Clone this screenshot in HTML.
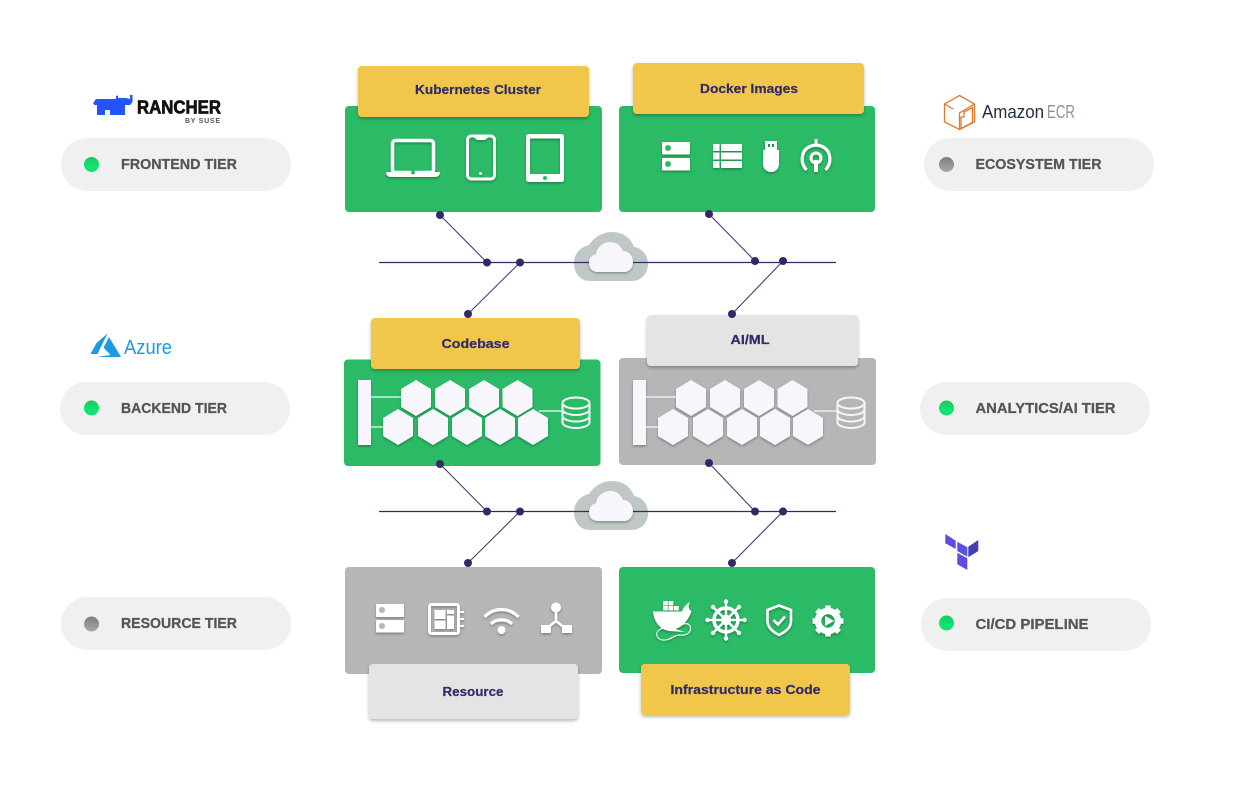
<!DOCTYPE html>
<html><head><meta charset="utf-8"><style>
html,body{margin:0;padding:0;background:#fff;width:1238px;height:792px;overflow:hidden}
svg{display:block}
text{font-family:"Liberation Sans",sans-serif;font-weight:bold}
.lb{font-size:13px;fill:#2f2a68;stroke:#2f2a68;stroke-width:.2;text-anchor:middle}
.pl{font-size:14.5px;fill:#555;stroke:#555;stroke-width:.25}
</style></head><body>
<svg width="1238" height="792" viewBox="0 0 1238 792" xmlns="http://www.w3.org/2000/svg">
<defs>
<filter id="s" x="-20%" y="-30%" width="140%" height="170%"><feDropShadow dx="0" dy="2" stdDeviation="1.6" flood-color="#000" flood-opacity=".28"/></filter>
<filter id="i" x="-30%" y="-30%" width="160%" height="170%"><feDropShadow dx="0" dy="1.5" stdDeviation="1.2" flood-color="#000" flood-opacity=".3"/></filter>
<linearGradient id="g" x1="0" y1="0" x2="0" y2="1"><stop offset="0" stop-color="#1cc662"/><stop offset=".6" stop-color="#10e472"/><stop offset="1" stop-color="#14dd6e"/></linearGradient>
<linearGradient id="y" x1="0" y1="0" x2="0" y2="1"><stop offset="0" stop-color="#7d7d7d"/><stop offset="1" stop-color="#a8a8a8"/></linearGradient>
<g id="hexes">
<g fill="#f6f6fc" filter="url(#i)">
<path d="M0-18 15-9V9L0 18-15 9V-9Z" transform="translate(46 18)"/>
<path d="M0-18 15-9V9L0 18-15 9V-9Z" transform="translate(80 18)"/>
<path d="M0-18 15-9V9L0 18-15 9V-9Z" transform="translate(114 18)"/>
<path d="M0-18 15-9V9L0 18-15 9V-9Z" transform="translate(147.500 18)"/>
<path d="M0-18 15-9V9L0 18-15 9V-9Z" transform="translate(28 47)"/>
<path d="M0-18 15-9V9L0 18-15 9V-9Z" transform="translate(63 47)"/>
<path d="M0-18 15-9V9L0 18-15 9V-9Z" transform="translate(97 47)"/>
<path d="M0-18 15-9V9L0 18-15 9V-9Z" transform="translate(130 47)"/>
<path d="M0-18 15-9V9L0 18-15 9V-9Z" transform="translate(163 47)"/>
<rect x="-12" y="0" width="13" height="65"/>
</g>
<path d="M1 17H31M1 47H13M169 31H192" stroke="#f6f6fc" stroke-width="1.2" fill="none"/>
<g fill="none" stroke="#f6f6fc" stroke-width="2">
<ellipse cx="206" cy="23" rx="13.500" ry="5.500"/>
<path d="M192.500 23V42.500C192.500 45.500 199 48 206 48S219.500 45.500 219.500 42.500V23M192.500 29.500C192.500 32.500 199 35 206 35S219.500 32.500 219.500 29.500M192.500 36C192.500 39 199 41.500 206 41.500S219.500 39 219.500 36"/>
</g>
</g>
<path id="cloudO" d="M590 281C580 281 574 273 574 263 574 254 580 247 589 245 594 237 603 232 612 232 623 232 631 238 634 247 642 248 648 255 648 264 648 274 641 281 632 281Z" fill="#c0c8c5"/>
<path id="cloudI" d="M598 272C592 272 589 268 589 263 589 258 592 255 596 254 597 247 603 242 610 242 616 242 621 245 623 251 629 251 633 256 633 262 633 268 629 272 624 272Z" fill="#f6f6fc" filter="url(#i)"/>
</defs>

<!-- clouds outer -->
<use href="#cloudO"/>
<use href="#cloudO" y="249"/>

<!-- connectors -->
<g stroke="#2f2a68" fill="none">
<path d="M379 262.500H836M379 511.500H836" stroke-width="1.200"/>
<path d="M440 215 487 262.500M520 262.500 468 314M709 214 755 261M783 261 732 314M440 464 487 511.500M520 511.500 468 563M709 463 755 511.500M783 511.500 732 563" stroke-width="1.100" stroke="#44407c"/>
</g>
<use href="#cloudI"/>
<use href="#cloudI" y="249"/>

<!-- panels -->
<rect x="345" y="106" width="257" height="106" rx="4" fill="#2bbb67"/>
<rect x="619" y="106" width="256" height="106" rx="4" fill="#2bbb67"/>
<rect x="344" y="359.500" width="256.500" height="106.500" rx="4" fill="#2bbb67"/>
<rect x="619" y="358" width="257" height="107" rx="4" fill="#b6b6b6"/>
<rect x="345" y="567" width="257" height="107" rx="4" fill="#b6b6b6"/>
<rect x="619" y="567" width="256" height="106" rx="4" fill="#2bbb67"/>

<!-- labels -->
<g filter="url(#s)">
<rect x="358" y="66" width="231" height="51" rx="4" fill="#f1c74b"/>
<rect x="633" y="63" width="231" height="51" rx="4" fill="#f1c74b"/>
<rect x="371" y="318" width="209" height="51" rx="4" fill="#f1c74b"/>
<rect x="647" y="315" width="211" height="51" rx="4" fill="#e4e4e4"/>
<rect x="369" y="664" width="209" height="55" rx="4" fill="#e4e4e4"/>
<rect x="641" y="664" width="209" height="51" rx="4" fill="#f1c74b"/>
</g>
<text class="lb" x="478" y="94" textLength="126" lengthAdjust="spacingAndGlyphs">Kubernetes Cluster</text>
<text class="lb" x="749" y="93" textLength="98" lengthAdjust="spacingAndGlyphs">Docker Images</text>
<text class="lb" x="475.500" y="348" textLength="68" lengthAdjust="spacingAndGlyphs">Codebase</text>
<text class="lb" x="750" y="344" textLength="39" lengthAdjust="spacingAndGlyphs">AI/ML</text>
<text class="lb" x="473" y="696" textLength="61" lengthAdjust="spacingAndGlyphs">Resource</text>
<text class="lb" x="745.500" y="694" textLength="150" lengthAdjust="spacingAndGlyphs">Infrastructure as Code</text>

<!-- connector dots on top -->
<g fill="#2f2a68">
<circle cx="440" cy="215" r="4"/><circle cx="487" cy="262.500" r="4"/><circle cx="520" cy="262.500" r="4"/><circle cx="468" cy="314" r="4"/>
<circle cx="709" cy="214" r="4"/><circle cx="755" cy="261" r="4"/><circle cx="783" cy="261" r="4"/><circle cx="732" cy="314" r="4"/>
<circle cx="440" cy="464" r="4"/><circle cx="487" cy="511.500" r="4"/><circle cx="520" cy="511.500" r="4"/><circle cx="468" cy="563" r="4"/>
<circle cx="709" cy="463" r="4"/><circle cx="755" cy="511.500" r="4"/><circle cx="783" cy="511.500" r="4"/><circle cx="732" cy="563" r="4"/>
</g>

<!-- k8s icons -->
<g filter="url(#i)">
<rect x="392.500" y="140.500" width="41" height="32" rx="3" fill="none" stroke="#fff" stroke-width="3.500"/>
<path d="M386 172H440C440 175 438 177 435 177H391C388 177 386 175 386 172Z" fill="#fff"/>
<circle cx="413" cy="172.500" r="2" fill="#2bbb67"/>
<rect x="467.500" y="136" width="27" height="43" rx="4" fill="none" stroke="#fff" stroke-width="3"/>
<path d="M474 136H488C487 140 485 140 481 140S475 140 474 136Z" fill="#fff"/>
<circle cx="480.500" cy="173.500" r="1.500" fill="#fff"/>
<path fill-rule="evenodd" d="M529 134H561C563 134 564 135 564 137V179C564 181 563 182 561 182H529C527 182 526 181 526 179V137C526 135 527 134 529 134ZM530 138.500V174H560V138.500Z" fill="#fff"/>
<circle cx="545" cy="178" r="2" fill="#2bbb67"/>
</g>

<!-- docker icons -->
<g filter="url(#i)" fill="#fff">
<rect x="662" y="142" width="28" height="12.500" rx="1"/>
<rect x="662" y="158" width="28" height="12.500" rx="1"/>
<path d="M713 144H719.500V151H713ZM721 144H742V151H721ZM713 152.500H719.500V159.500H713ZM721 152.500H742V159.500H721ZM713 161H719.500V168H713ZM721 161H742V168H721Z"/>
<path fill-rule="evenodd" d="M765 141H777V150H765ZM768 144V147H770V144ZM772 144V147H774V144Z"/>
<path d="M763 150H779V164C779 169 775 172 771 172S763 169 763 164Z"/>
<path d="M806.500 170C800 163 801 152 808 147.500 813 144.500 819 144.500 824 147.500 831 152 832 163 825.500 170" fill="none" stroke="#fff" stroke-width="3.200"/>
<rect x="814.500" y="139" width="3" height="6"/>
<circle cx="816" cy="158" r="5" fill="none" stroke="#fff" stroke-width="3"/>
<rect x="814" y="160" width="4" height="12"/>
</g>
<circle cx="668" cy="148" r="3" fill="#2bbb67"/>
<circle cx="668" cy="164" r="3" fill="#2bbb67"/>

<!-- hex clusters -->
<use href="#hexes" x="370" y="380"/>
<use href="#hexes" x="645" y="380"/>

<!-- resource icons -->
<g filter="url(#i)" fill="#fff">
<rect x="376" y="604" width="28" height="13" rx="1"/>
<rect x="376" y="620" width="28" height="12.500" rx="1"/>
<rect x="429.500" y="604.500" width="29" height="29" rx="2" fill="none" stroke="#fff" stroke-width="3"/>
<path d="M434.500 610H445.500V619H434.500ZM447 610H454V614H447ZM447 615.500H454V629H447ZM434.500 620.500H445.500V629H434.500ZM460 611H464V613H460ZM460 618H464V620H460ZM460 625H464V627H460Z"/>
<circle cx="501.500" cy="630" r="4"/>
<path d="M484.500 617C494 607 509 607 518.500 617M491 624C496 618.500 507 618.500 512 624" fill="none" stroke="#fff" stroke-width="3.200"/>
<circle cx="556" cy="607.500" r="5"/>
<rect x="541" y="625" width="10" height="8"/>
<rect x="562" y="625" width="10" height="8"/>
<path d="M556 612V621L546 629M556 621 566 629" fill="none" stroke="#fff" stroke-width="2.500"/>
</g>
<circle cx="382" cy="610" r="3" fill="#b6b6b6"/>
<circle cx="382" cy="626" r="3" fill="#b6b6b6"/>

<!-- infra icons -->
<g filter="url(#i)">
<g fill="#fff">
<rect x="663" y="601" width="4.800" height="4.500"/><rect x="668.500" y="601" width="4.800" height="4.500"/>
<rect x="663" y="606" width="4.800" height="4.500"/><rect x="668.500" y="606" width="4.800" height="4.500"/><rect x="674" y="606" width="4.800" height="4.500"/>
<path d="M653 611.500H682C683 608 686 604 690 602 688 606 688 609 691.500 611 688 622 680 628 675 629L685 632 670 631C660 630 654 622 653 611.500Z"/>
</g>
<path d="M659 630C654 634 658 641 665 640 671 640 673 635 680 635 688 636 692 631 690 626 688 622 682 624 680 626 672 630 664 626 659 630Z" fill="none" stroke="#fff" stroke-width="1.100"/>
<g fill="none" stroke="#fff">
<circle cx="726" cy="620" r="12" stroke-width="3.400"/>
<circle cx="726" cy="620" r="4" stroke-width="2.400"/>
<path d="M707 620H745M726 601V639M712.500 606.500 739.500 633.500M739.500 606.500 712.500 633.500" stroke-width="2.300"/>
</g>
<g fill="#fff">
<circle cx="707.500" cy="620" r="2.200"/><circle cx="744.500" cy="620" r="2.200"/><circle cx="726" cy="601.500" r="2.200"/><circle cx="726" cy="638.500" r="2.200"/>
<circle cx="713" cy="607" r="2.200"/><circle cx="739" cy="607" r="2.200"/><circle cx="713" cy="633" r="2.200"/><circle cx="739" cy="633" r="2.200"/>
</g>
<path d="M779 605.500 791 610V621C791 628 785 632 779 635 773 632 767.500 628 767.500 621V610Z" fill="none" stroke="#fff" stroke-width="2.600"/>
<path d="M773.500 620 778 624.500 785 616.500" fill="none" stroke="#fff" stroke-width="2.600"/>
<circle cx="828" cy="621" r="10" fill="none" stroke="#fff" stroke-width="6.500"/>
<path d="M828 605.500V611M828 631V636.500M812.500 621H818M838 621H843.500M817 610 821 614M835 628 839 632M839 610 835 614M821 628 817 632" stroke="#fff" stroke-width="5.500"/>
<path d="M825 616 834 621 825 626Z" fill="#fff"/>
</g>

<!-- pills -->
<g fill="#f0f0f0">
<rect x="61" y="138" width="230" height="53" rx="26.500"/>
<rect x="60" y="382" width="230" height="53" rx="26.500"/>
<rect x="61" y="597" width="230" height="53" rx="26.500"/>
<rect x="924" y="138" width="230" height="53" rx="26.500"/>
<rect x="920" y="382" width="230" height="53" rx="26.500"/>
<rect x="921" y="598" width="230" height="53" rx="26.500"/>
</g>
<circle cx="91.500" cy="164.500" r="7.500" fill="url(#g)"/>
<circle cx="91.500" cy="408" r="7.500" fill="url(#g)"/>
<circle cx="91.500" cy="624" r="7.500" fill="url(#y)"/>
<circle cx="946.500" cy="164.500" r="7.500" fill="url(#y)"/>
<circle cx="946.500" cy="408" r="7.500" fill="url(#g)"/>
<circle cx="946.500" cy="623" r="7.500" fill="url(#g)"/>
<text class="pl" x="121" y="169" textLength="116" lengthAdjust="spacingAndGlyphs">FRONTEND TIER</text>
<text class="pl" x="121" y="413" textLength="106" lengthAdjust="spacingAndGlyphs">BACKEND TIER</text>
<text class="pl" x="121" y="628" textLength="116" lengthAdjust="spacingAndGlyphs">RESOURCE TIER</text>
<text class="pl" x="975.500" y="169" textLength="126" lengthAdjust="spacingAndGlyphs">ECOSYSTEM TIER</text>
<text class="pl" x="975.500" y="413" textLength="140" lengthAdjust="spacingAndGlyphs">ANALYTICS/AI TIER</text>
<text class="pl" x="975.500" y="629" textLength="113" lengthAdjust="spacingAndGlyphs">CI/CD PIPELINE</text>

<!-- Rancher -->
<path d="M93 104 95 100 97 99H116V96L118 95.500V98H126L130 99V95H132.500V102L130 105H125V115H110V110H105V115H97V105H95Z" fill="#2453ff"/>
<text x="137" y="113.500" font-size="18" fill="#111" textLength="84" lengthAdjust="spacingAndGlyphs" stroke="#111" stroke-width=".7">RANCHER</text>
<text x="185" y="123" font-size="7" fill="#555" textLength="35" lengthAdjust="spacing">BY SUSE</text>

<!-- ECR -->
<g fill="none" stroke="#e2792e" stroke-width="1.300">
<path d="M959.500 95.500 974.500 104V122L959.500 129.500 944.500 122V104Z"/>
<path d="M959.500 129.500V113L974.500 104M944.500 104 953 109"/>
<path d="M961 128.500 961 117 964 117 964 112 972.500 107.500V122.500Z"/>
</g>
<text x="982" y="118" font-size="18" fill="#232f3e" style="font-weight:normal" textLength="62" lengthAdjust="spacingAndGlyphs">Amazon</text>
<text x="1047" y="118" font-size="18" fill="#8a929c" style="font-weight:normal" textLength="28" lengthAdjust="spacingAndGlyphs">ECR</text>

<!-- Azure -->
<path d="M107.500 333.500 96.500 343 90.500 354H97.500Z" fill="#1b9ae4"/>
<path d="M109 337 103.500 347.500 110.500 355 97 357H121Z" fill="#1b9ae4"/>
<text x="124" y="354" font-size="20" fill="#1b9ae4" style="font-weight:normal" textLength="48" lengthAdjust="spacingAndGlyphs">Azure</text>

<!-- Terraform -->
<path d="M945.300 534 955.700 540.700V549L945.300 543.300Z" fill="#5c4ee5"/>
<path d="M957.300 541.700 967.300 547.300V556.700L957.300 551Z" fill="#5c4ee5"/>
<path d="M978.300 540 968.300 546.700V557.300L978.300 551Z" fill="#4040b2"/>
<path d="M957.300 552.700 967.300 558.300V570L957.300 564.300Z" fill="#5c4ee5"/>
</svg>
</body></html>
